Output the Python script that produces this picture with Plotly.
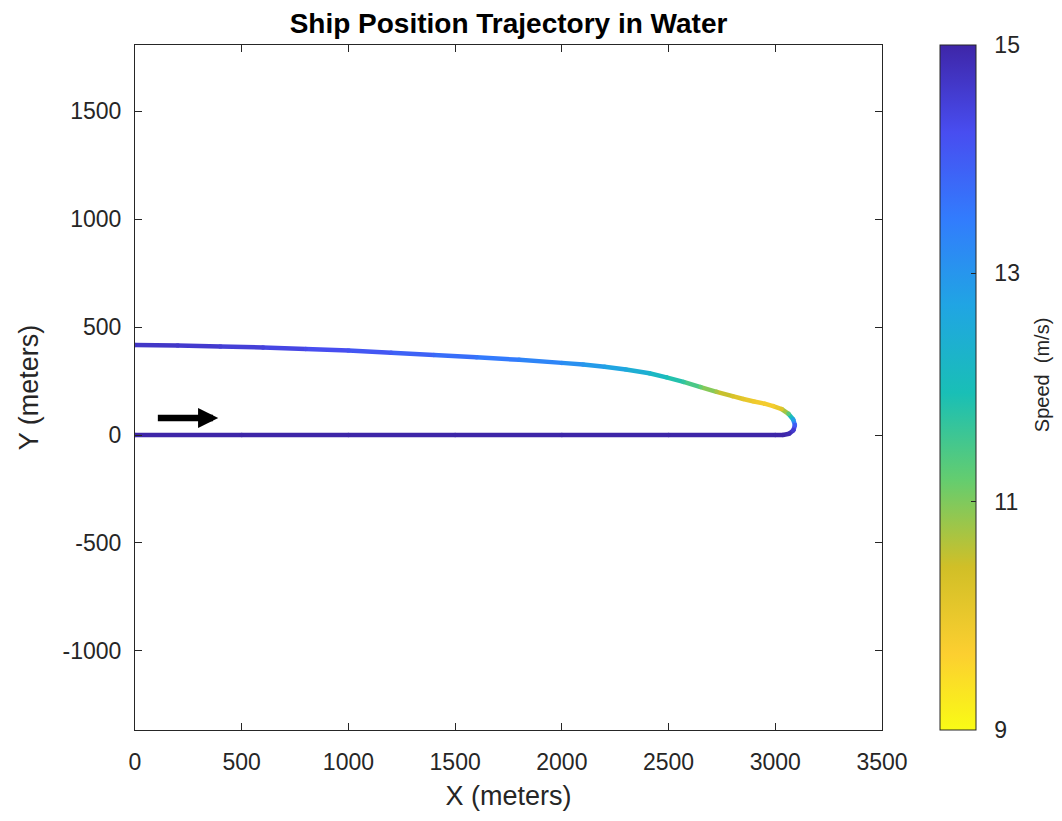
import plotly.graph_objects as go
from plotly.colors import sample_colorscale

# ship path (meters) and speed (m/s)
path_x = [0, 500, 1000, 1500, 2000, 2500, 3000, 3036, 3065, 3085, 3092, 3084, 3062, 3030,
          2990, 2950, 2900, 2850, 2800, 2725, 2650, 2570, 2490, 2410, 2300, 2200, 2100,
          2000, 1800, 1600, 1400, 1200, 1000, 800, 600, 400, 200, 0]
path_y = [0, 0, 0, 0, 0, 0, 0, 0, 6, 22, 46, 72, 98, 120,
          134, 145, 155, 167, 180, 200, 222, 246, 267, 286, 303, 316, 326,
          334, 348, 360, 371, 381, 391, 398, 405, 410, 414, 417]
speed = [15, 15, 15, 15, 15, 15, 15, 15, 14.9, 14.6, 14.0, 12.8, 11.3, 10.2,
         9.8, 9.8, 9.9, 10.1, 10.3, 10.7, 11.2, 11.7, 12.0, 12.3, 12.6, 12.8, 13.0,
         13.2, 13.4, 13.6, 13.8, 14.0, 14.15, 14.3, 14.45, 14.55, 14.65, 14.7]

speed_min, speed_max = 9, 15
cbar_ticks = [9, 11, 13, 15]
x_ticks = [0, 500, 1000, 1500, 2000, 2500, 3000, 3500]
y_ticks = [-1000, -500, 0, 500, 1000, 1500]

# flipped parula (yellow at low speed, dark blue at high speed)
parula_flip = [
    [0.0, "rgb(249,251,21)"],
    [0.111, "rgb(252,207,48)"],
    [0.238, "rgb(209,191,39)"],
    [0.365, "rgb(100,205,111)"],
    [0.492, "rgb(25,191,182)"],
    [0.619, "rgb(32,165,227)"],
    [0.746, "rgb(50,124,253)"],
    [0.873, "rgb(72,77,240)"],
    [1.0, "rgb(62,38,168)"],
]

font = "Liberation Sans, Arial, sans-serif"
ink = "#262626"
lw = 4.5

fig = go.Figure()

# colored path, one piece per pair of points
for i in range(len(path_x) - 1):
    s = (speed[i] + speed[i + 1]) / 2
    c = sample_colorscale(parula_flip, (s - speed_min) / (speed_max - speed_min))[0]
    fig.add_trace(go.Scatter(
        x=path_x[i:i + 2], y=path_y[i:i + 2], mode="lines",
        line=dict(color=c, width=lw), showlegend=False, hoverinfo="skip"
    ))

fig.add_trace(go.Scatter(
    x=path_x, y=path_y, mode="markers", showlegend=False,
    marker=dict(
        size=lw, color=speed, colorscale=parula_flip, cmin=speed_min, cmax=speed_max,
        line=dict(width=0),
        colorbar=dict(
            x=1.0777, xanchor="left", xpad=0, y=0.5, yanchor="middle", ypad=0,
            len=1.0, lenmode="fraction",
            thickness=36, outlinecolor=ink, outlinewidth=1,
            tickvals=cbar_ticks, ticktext=["\u00a0\u00a0" + str(v) for v in cbar_ticks],
            ticks="inside", ticklen=5, tickcolor=ink,
            tickfont=dict(family=font, size=23, color=ink),
        ),
    ),
    hovertemplate="x=%{x}<br>y=%{y}<br>speed=%{marker.color}<extra></extra>"
))

# colorbar label, rotated, to the right of the tick labels
fig.add_annotation(
    text="Speed\u00a0\u00a0(m/s)", xref="paper", yref="paper", x=1.2142, y=0.518,
    xanchor="center", yanchor="middle", textangle=-90, showarrow=False,
    font=dict(family=font, size=20, color=ink)
)

# direction arrow
fig.add_annotation(
    x=390, y=79, ax=100, ay=79, xref="x", yref="y", axref="x", ayref="y",
    showarrow=True, arrowhead=2, arrowsize=0.62, arrowwidth=6.5, arrowcolor="black", text=""
)

axis_common = dict(
    showline=True, linecolor=ink, linewidth=1, mirror="ticks",
    ticks="inside", ticklen=7, tickcolor=ink, showgrid=False, zeroline=False,
    tickfont=dict(family=font, size=23, color=ink),
)

# page body adds 8px offset, so the figure is 8px smaller and margins shifted
fig.update_layout(
    width=1054, height=813,
    margin=dict(l=127, r=180, t=37, b=91),
    paper_bgcolor="white", plot_bgcolor="white",
    title=dict(text="<b>Ship Position Trajectory in Water</b>", x=(127 + 373.5) / 1054,
               xanchor="center", y=1 - 15 / 813, yanchor="middle",
               font=dict(family=font, size=28, color="black")),
    xaxis=dict(range=[0, 3500], tickvals=x_ticks, ticktext=[str(v) for v in x_ticks],
               ticklabelstandoff=11,
               title=dict(text="X (meters)", font=dict(family=font, size=27, color=ink), standoff=12),
               **axis_common),
    yaxis=dict(range=[-1366, 1806], tickvals=y_ticks, ticktext=[str(v) for v in y_ticks],
               ticklabelstandoff=8,
               title=dict(text="Y (meters)", font=dict(family=font, size=27, color=ink), standoff=16),
               **axis_common),
)

fig.write_html("out.html")
